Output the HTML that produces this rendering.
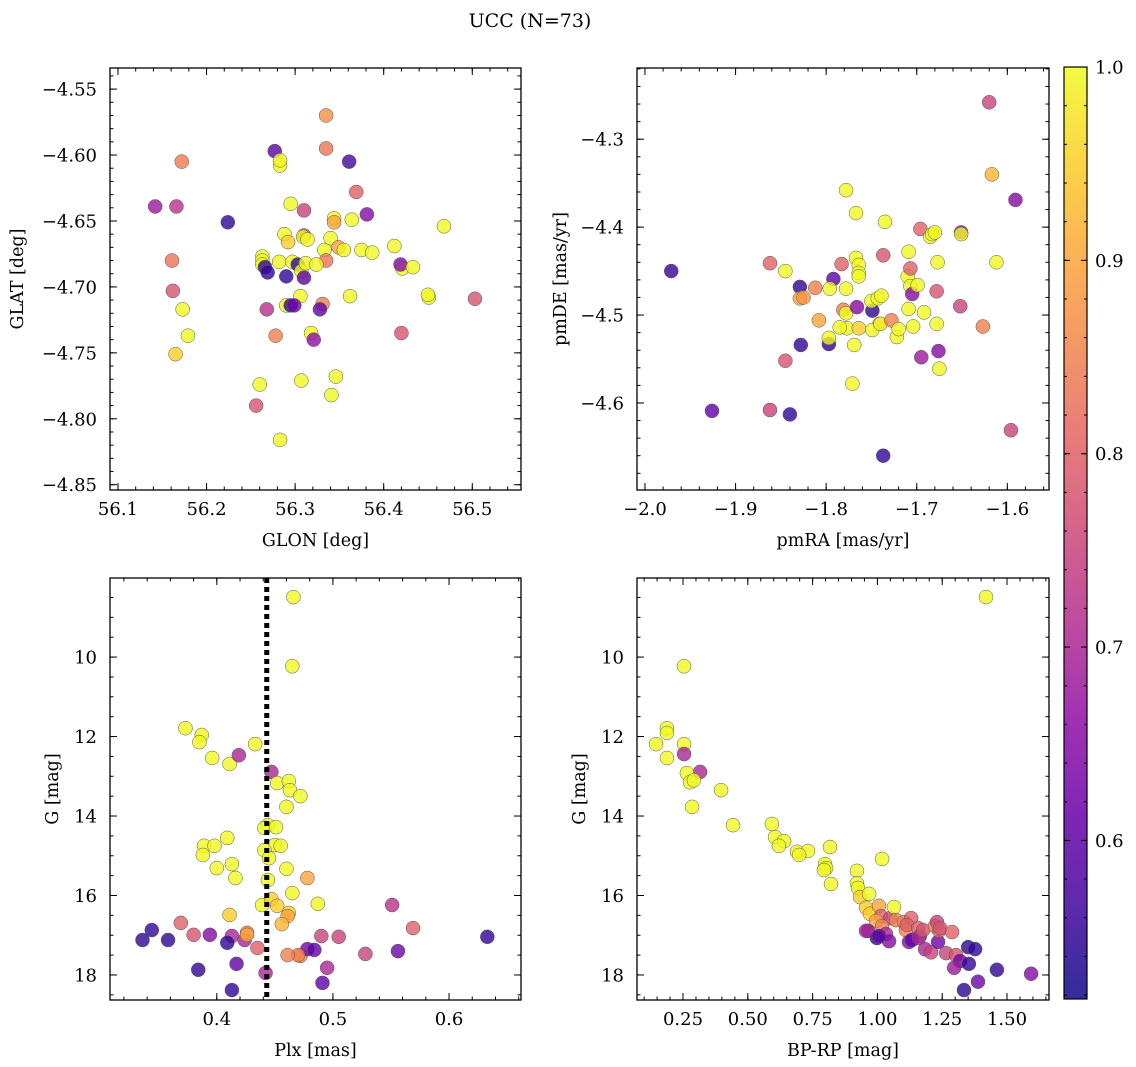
<!DOCTYPE html>
<html><head><meta charset="utf-8">
<style>
html,body{margin:0;padding:0;background:#fff;}
svg{display:block;font-family:"DejaVu Serif","Liberation Serif",serif;}
</style></head>
<body>
<svg id="chart" width="1136" height="1067" viewBox="0 0 1136 1067" xmlns="http://www.w3.org/2000/svg">
<text x="530" y="27" font-size="19" text-anchor="middle">UCC (N=73)</text>
</svg>
<script>
// Panel 1: GLON / GLAT
const glon=[56.142,56.166,56.172,56.161,56.162,56.173,56.179,56.165,56.224,56.277,56.283,56.283,56.295,56.335,56.335,56.361,56.369,56.381,56.468,56.364,56.344,56.263,56.263,56.263,56.266,56.269,56.282,56.288,56.292,56.297,56.303,56.310,56.310,56.309,56.314,56.307,56.312,56.310,56.290,56.290,56.295,56.306,56.299,56.256,56.278,56.318,56.331,56.328,56.333,56.340,56.349,56.355,56.375,56.387,56.412,56.421,56.451,56.450,56.420,56.419,56.433,56.362,56.503,56.260,56.283,56.268,56.307,56.341,56.346,56.321,56.335,56.324,56.344];
const glat=[-4.639,-4.639,-4.605,-4.680,-4.703,-4.717,-4.737,-4.751,-4.651,-4.597,-4.608,-4.604,-4.637,-4.570,-4.595,-4.605,-4.628,-4.645,-4.654,-4.649,-4.648,-4.677,-4.680,-4.683,-4.685,-4.689,-4.681,-4.660,-4.666,-4.681,-4.683,-4.642,-4.661,-4.662,-4.664,-4.688,-4.682,-4.693,-4.692,-4.714,-4.714,-4.707,-4.714,-4.790,-4.737,-4.735,-4.713,-4.717,-4.672,-4.663,-4.670,-4.672,-4.672,-4.674,-4.669,-4.686,-4.708,-4.706,-4.735,-4.683,-4.685,-4.707,-4.709,-4.774,-4.816,-4.717,-4.771,-4.782,-4.768,-4.740,-4.680,-4.683,-4.651];
const prob1=[0.68,0.72,0.84,0.83,0.78,1,1,0.95,0.55,0.6,1,1,1,0.87,0.83,0.57,0.8,0.65,1,1,1,1,1,1,0.55,0.55,1,1,0.95,1,0.55,0.75,0.75,1,1,1,1,0.6,0.55,1,0.55,1,0.62,0.78,0.85,1,0.85,0.6,1,1,0.9,1,1,1,1,1,1,1,0.78,0.65,1,1,0.78,1,1,0.72,1,1,1,0.66,0.83,1,0.9];
// Panel 2: pmRA / pmDE
const pmra=[-1.971,-1.926,-1.862,-1.840,-1.829,-1.828,-1.845,-1.862,-1.845,-1.829,-1.825,-1.812,-1.808,-1.797,-1.792,-1.796,-1.797,-1.778,-1.778,-1.783,-1.781,-1.778,-1.777,-1.785,-1.771,-1.767,-1.769,-1.767,-1.764,-1.764,-1.764,-1.766,-1.764,-1.749,-1.750,-1.743,-1.741,-1.749,-1.740,-1.739,-1.737,-1.735,-1.737,-1.722,-1.728,-1.720,-1.710,-1.709,-1.707,-1.709,-1.707,-1.705,-1.704,-1.699,-1.696,-1.695,-1.692,-1.685,-1.683,-1.678,-1.678,-1.680,-1.677,-1.676,-1.675,-1.651,-1.651,-1.652,-1.627,-1.620,-1.617,-1.612,-1.596,-1.591];
const pmde=[-4.450,-4.609,-4.608,-4.613,-4.468,-4.534,-4.552,-4.441,-4.450,-4.481,-4.480,-4.469,-4.506,-4.533,-4.459,-4.470,-4.526,-4.358,-4.470,-4.442,-4.494,-4.498,-4.515,-4.514,-4.578,-4.384,-4.534,-4.435,-4.443,-4.452,-4.456,-4.491,-4.515,-4.495,-4.484,-4.481,-4.510,-4.517,-4.510,-4.478,-4.432,-4.394,-4.660,-4.525,-4.506,-4.516,-4.456,-4.428,-4.467,-4.493,-4.447,-4.476,-4.513,-4.466,-4.402,-4.548,-4.497,-4.411,-4.408,-4.473,-4.510,-4.406,-4.440,-4.541,-4.561,-4.406,-4.408,-4.490,-4.513,-4.258,-4.340,-4.440,-4.631,-4.369];
const prob2=[0.55,0.6,0.75,0.55,0.55,0.55,0.78,0.8,1,0.9,0.88,0.85,0.9,0.55,0.6,1,1,1,1,0.8,0.85,1,1,1,1,1,1,1,1,1,1,0.65,0.95,0.55,1,1,0.9,1,1,1,0.78,1,0.55,1,0.85,1,1,1,1,1,0.8,0.65,1,1,0.8,0.68,1,1,1,0.78,1,1,1,0.65,1,0.65,1,0.75,0.85,0.75,0.92,1,0.75,0.65];
// Panel 3: Plx / G
const plx=[0.466,0.465,0.373,0.387,0.385,0.396,0.411,0.419,0.433,0.447,0.452,0.462,0.463,0.472,0.460,0.444,0.441,0.451,0.409,0.389,0.398,0.450,0.455,0.441,0.445,0.388,0.400,0.413,0.416,0.460,0.478,0.465,0.444,0.439,0.447,0.452,0.462,0.461,0.487,0.411,0.369,0.380,0.344,0.336,0.358,0.394,0.413,0.424,0.409,0.426,0.426,0.435,0.442,0.417,0.384,0.413,0.472,0.478,0.484,0.495,0.490,0.505,0.528,0.551,0.556,0.569,0.633,0.470,0.461,0.491,0.456];
const gmag=[8.49,10.23,11.79,11.96,12.14,12.54,12.69,12.47,12.19,12.89,13.17,13.12,13.35,13.50,13.77,14.23,14.30,14.28,14.55,14.75,14.75,14.73,14.75,14.86,15.06,14.98,15.31,15.21,15.56,15.33,15.56,15.94,15.61,16.24,16.09,16.26,16.44,16.52,16.21,16.49,16.69,16.99,16.87,17.12,17.12,16.99,17.02,17.12,17.19,16.94,16.99,17.32,17.95,17.72,17.87,18.38,17.52,17.35,17.37,17.82,17.02,17.04,17.47,16.24,17.40,16.82,17.04,17.50,17.50,18.20,16.72];
const prob3=[1,1,1,1,1,1,1,0.7,1,0.7,1,1,1,1,1,1,1,1,1,1,1,1,1,1,1,1,1,1,1,1,0.9,1,1,1,0.95,0.95,0.95,0.9,1,0.95,0.8,0.78,0.55,0.55,0.55,0.65,0.7,0.7,0.55,0.85,0.9,0.8,0.7,0.6,0.55,0.55,0.85,0.62,0.6,0.7,0.75,0.75,0.75,0.72,0.62,0.8,0.55,0.85,0.85,0.6,0.92];
// Panel 4: BP-RP / G
const bprp=[1.419,0.254,0.188,0.188,0.146,0.254,0.254,0.188,0.316,0.265,0.277,0.292,0.285,0.397,0.443,0.593,0.605,0.640,0.690,0.732,0.620,0.698,0.817,0.798,0.802,0.794,0.921,1.018,0.821,0.921,0.925,0.933,0.968,0.956,0.971,1.006,1.014,1.049,1.064,1.072,1.103,1.110,1.130,1.114,1.157,1.164,0.995,1.018,1.033,1.045,0.998,0.964,0.956,1.006,1.122,1.133,1.160,1.176,1.184,1.207,1.222,1.234,1.230,1.238,1.242,1.265,1.288,1.303,1.319,1.350,1.377,1.296,1.353,1.334,1.461,1.593,1.388];
const gmag4=[8.49,10.23,11.79,11.91,12.19,12.19,12.44,12.54,12.89,12.92,13.15,13.10,13.77,13.35,14.23,14.20,14.53,14.63,14.90,14.88,14.75,14.98,14.78,15.21,15.31,15.36,15.38,15.08,15.71,15.69,15.81,16.04,15.96,16.31,16.46,16.26,16.52,16.57,16.29,16.62,16.67,16.87,16.57,16.74,16.82,17.02,16.64,16.77,16.97,17.15,17.07,16.89,16.89,17.02,17.17,17.12,17.07,16.87,17.35,17.43,16.77,17.17,16.67,16.89,16.82,17.45,16.92,17.50,17.65,17.30,17.35,17.82,17.72,18.38,17.87,17.97,18.17];
const prob4=[1,1,1,1,1,1,0.7,1,0.7,1,1,1,1,1,1,1,1,1,1,1,1,1,1,1,1,1,1,1,1,1,1,0.95,1,0.95,0.95,0.9,0.8,0.75,1,0.85,0.85,0.85,0.8,0.8,0.8,0.75,0.9,0.85,0.7,0.65,0.55,0.65,0.7,0.6,0.65,0.6,0.7,0.78,0.7,0.75,0.85,0.62,0.75,0.8,0.78,0.75,0.8,0.78,0.62,0.55,0.55,0.68,0.55,0.55,0.55,0.65,0.62];
const plxCut=[0.443];
const cbTicks=[0.6,0.7,0.8,0.9,1.0];

const NS="http://www.w3.org/2000/svg";
const svg=document.getElementById('chart');
const VMIN=0.518,VMAX=1.0;
const FS=18;
const stops=["#0d0887","#41049d","#6a00a8","#8f0da4","#b12a90","#cc4778","#e16462","#f2844b","#fca636","#fcce25","#f0f921"];
function hex(h){return [parseInt(h.substr(1,2),16),parseInt(h.substr(3,2),16),parseInt(h.substr(5,2),16)];}
function plasma(t){t=Math.max(0,Math.min(1,t));const f=t*10,i=Math.min(9,Math.floor(f)),u=f-i;const a=hex(stops[i]),b=hex(stops[i+1]);return 'rgb('+a.map((v,k)=>Math.round(v+(b[k]-v)*u)).join(',')+')';}
function el(tag,attrs,parent){const e=document.createElementNS(NS,tag);for(const k in attrs)e.setAttribute(k,attrs[k]);(parent||svg).appendChild(e);return e;}
function fmt(v,d){return (v<0?'\u2212':'')+Math.abs(v).toFixed(d);}

function panel(cfg){
  const {x0,y0,w,h,xmin,xmax,ymin,ymax,name}=cfg;
  const g=el('g',{});
  
  
  const sx=v=>x0+(v-xmin)/(xmax-xmin)*w;
  const sy=v=>y0+(ymax-v)/(ymax-ymin)*h;
  const pg=el('g',{},g);
  
  
  for(let i=0;i<cfg.xs.length;i++){
    const c=el('circle',{cx:sx(cfg.xs[i]),cy:sy(cfg.ys[i]),r:7,fill:plasma((cfg.ps[i]-VMIN)/(VMAX-VMIN)),'fill-opacity':0.8,stroke:'#555','stroke-width':0.5},pg);
    
    
  }
  if(cfg.extra)cfg.extra(g,sx,sy);
  const fr=el('rect',{x:x0,y:y0,width:w,height:h,fill:'none',stroke:'#000','stroke-width':1.3},g);
  
  
  const lo=Math.min(ymin,ymax),hi=Math.max(ymin,ymax);
  function ticksX(step,len,labels,dec){
    const s=Math.ceil(xmin/step-1e-6);
    for(let k=s;k*step<=xmax+1e-9;k++){const v=k*step,X=sx(v);
      el('line',{x1:X,x2:X,y1:y0+h,y2:y0+h-len,stroke:'#000','stroke-width':1},g);
      el('line',{x1:X,x2:X,y1:y0,y2:y0+len,stroke:'#000','stroke-width':1},g);
      if(labels){const t=el('text',{x:X,y:y0+h+25,'font-size':FS,'text-anchor':'middle'},g);t.textContent=fmt(v,dec);
        
        }
    }
  }
  function ticksY(step,len,labels,dec){
    const s=Math.ceil(lo/step-1e-6);
    for(let k=s;k*step<=hi+1e-9;k++){const v=k*step,Y=sy(v);
      el('line',{x1:x0,x2:x0+len,y1:Y,y2:Y,stroke:'#000','stroke-width':1},g);
      el('line',{x1:x0+w,x2:x0+w-len,y1:Y,y2:Y,stroke:'#000','stroke-width':1},g);
      if(labels){const t=el('text',{x:x0-13,y:Y+6.5,'font-size':FS,'text-anchor':'end'},g);t.textContent=fmt(v,dec);
        
        }
    }
  }
  ticksX(cfg.xminor,3.5,false);ticksX(cfg.xmajor,7,true,cfg.xdec);
  ticksY(cfg.yminor,3.5,false);ticksY(cfg.ymajor,7,true,cfg.ydec);
  const xl=el('text',{x:x0+w/2,y:y0+h+56,'font-size':17.5,'text-anchor':'middle'},g);xl.textContent=cfg.xlabel;
  
  
  const yl=el('text',{x:cfg.ylx,y:y0+h/2,'font-size':17.5,'text-anchor':'middle',transform:'rotate(-90 '+cfg.ylx+' '+(y0+h/2)+')'},g);yl.textContent=cfg.ylabel;
  
  
}

panel({name:'panel-glon-glat',x0:110,y0:68,w:411,h:422,xmin:56.091,xmax:56.555,ymin:-4.854,ymax:-4.534,
  xs:glon,ys:glat,ps:prob1,xmajor:0.1,xminor:0.02,ymajor:0.05,yminor:0.01,xdec:1,ydec:2,xlabel:'GLON [deg]',ylabel:'GLAT [deg]',ylx:23});
panel({name:'panel-pmra-pmde',x0:637,y0:68,w:412,h:422,xmin:-2.0088,xmax:-1.554,ymin:-4.699,ymax:-4.219,
  xs:pmra,ys:pmde,ps:prob2,xmajor:0.1,xminor:0.02,ymajor:0.1,yminor:0.02,xdec:1,ydec:1,xlabel:'pmRA [mas/yr]',ylabel:'pmDE [mas/yr]',ylx:566});
panel({name:'panel-plx-g',x0:110,y0:578,w:411,h:422,xmin:0.308,xmax:0.662,ymin:18.63,ymax:8.01,
  xs:plx,ys:gmag,ps:prob3,xmajor:0.1,xminor:0.02,ymajor:2,yminor:0.5,xdec:1,ydec:0,xlabel:'Plx [mas]',ylabel:'G [mag]',ylx:58,
  extra:(g,sx,sy)=>{const l=el('line',{x1:sx(plxCut[0]),x2:sx(plxCut[0]),y1:578,y2:1000,stroke:'#000','stroke-width':5,'stroke-dasharray':'5,4'},g);
    
    }});
panel({name:'panel-bprp-g',x0:637,y0:578,w:412,h:422,xmin:0.0725,xmax:1.662,ymin:18.63,ymax:8.01,
  xs:bprp,ys:gmag4,ps:prob4,xmajor:0.25,xminor:0.05,ymajor:2,yminor:0.5,xdec:2,ydec:0,xlabel:'BP-RP [mag]',ylabel:'G [mag]',ylx:585});

const cb=el('g',{});


const defs=el('defs',{},cb);
const lg=el('linearGradient',{id:'cbg',x1:0,y1:1,x2:0,y2:0},defs);
for(let i=0;i<=20;i++){el('stop',{offset:i/20,'stop-color':plasma(i/20),'stop-opacity':0.85},lg);}
const CY0=67,CY1=999,CX=1064,CW=23;
el('rect',{x:CX,y:CY0,width:CW,height:CY1-CY0,fill:'url(#cbg)',stroke:'#000','stroke-width':1.2},cb);
const cy=v=>CY1-(v-VMIN)/(VMAX-VMIN)*(CY1-CY0);
for(let v=0.52;v<=1.0001;v+=0.02){const Y=cy(v);el('line',{x1:CX+CW-3,x2:CX+CW,y1:Y,y2:Y,stroke:'#000','stroke-width':1},cb);el('line',{x1:CX,x2:CX+3,y1:Y,y2:Y,stroke:'#000','stroke-width':1},cb);}
cbTicks.forEach(v=>{const Y=cy(v);
  el('line',{x1:CX+CW-6,x2:CX+CW,y1:Y,y2:Y,stroke:'#000','stroke-width':1},cb);
  el('line',{x1:CX,x2:CX+6,y1:Y,y2:Y,stroke:'#000','stroke-width':1},cb);
  const t=el('text',{x:CX+CW+8,y:Y+6.5,'font-size':FS},cb);t.textContent=v.toFixed(1);
  
  });
</script>
</body></html>
